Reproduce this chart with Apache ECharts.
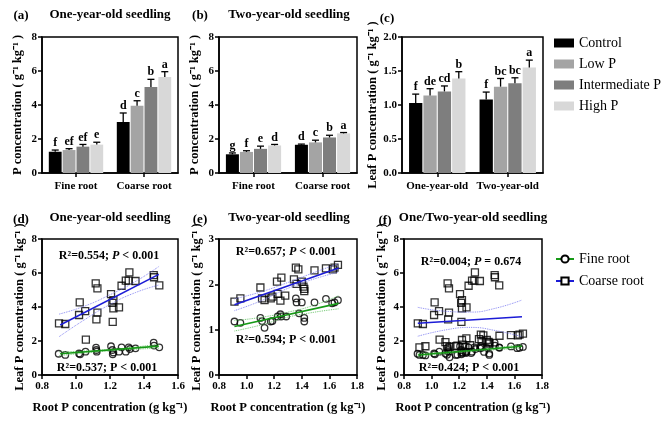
<!DOCTYPE html>
<html><head><meta charset="utf-8">
<script src="https://cdn.jsdelivr.net/npm/echarts@6/dist/echarts.min.js"></script>
<style>html,body{margin:0;padding:0;background:#fff}#c{width:669px;height:433px}</style>
</head><body><div id="c"></div>
<script>
// ---------------- DATA ----------------
const treatments = ['Control', 'Low P', 'Intermediate P', 'High P'];
const rootCats = ['Fine root', 'Coarse root'];
const ageCats = ['One-year-old', 'Two-year-old'];

// (a) One-year-old seedling: [fine, coarse] per treatment
const aMeans = [[1.25, 3.00], [1.35, 3.96], [1.55, 5.06], [1.67, 5.65]];
const aErrors = [[0.10, 0.53], [0.08, 0.29], [0.13, 0.45], [0.14, 0.31]];
const aLetters = [['f', 'd'], ['ef', 'c'], ['ef', 'b'], ['e', 'a']];
// (b) Two-year-old seedling
const bMeans = [[1.10, 1.66], [1.24, 1.80], [1.42, 2.09], [1.62, 2.33]];
const bErrors = [[0.08, 0.04], [0.07, 0.13], [0.16, 0.13], [0.06, 0.05]];
const bLetters = [['g', 'd'], ['f', 'c'], ['e', 'b'], ['d', 'a']];
// (c) Leaf P: [one-year, two-year] per treatment
const cMeans = [[1.03, 1.08], [1.14, 1.27], [1.20, 1.32], [1.39, 1.55]];
const cErrors = [[0.13, 0.11], [0.10, 0.12], [0.08, 0.08], [0.10, 0.11]];
const cLetters = [['f', 'f'], ['de', 'bc'], ['cd', 'bc'], ['b', 'a']];

// (d) One-year-old scatter
const dCoarse = [[0.900,3.04],[0.937,3.00],[1.018,3.53],[1.022,4.27],[1.054,3.76],[1.058,2.08],[1.116,5.39],[1.126,5.10],[1.120,3.27],[1.126,3.67],[1.206,4.76],[1.214,4.24],[1.220,4.41],[1.220,3.92],[1.216,3.12],[1.253,3.98],[1.268,5.25],[1.293,5.55],[1.310,5.55],[1.314,6.04],[1.350,5.53],[1.457,5.88],[1.459,5.75],[1.490,5.27]];
const dFine = [[0.898,1.25],[0.937,1.18],[1.018,1.27],[1.024,1.22],[1.056,1.37],[1.118,1.61],[1.120,1.47],[1.122,1.37],[1.206,1.69],[1.214,1.47],[1.220,1.33],[1.216,1.22],[1.253,1.37],[1.268,1.63],[1.293,1.37],[1.310,1.63],[1.317,1.53],[1.350,1.57],[1.457,1.90],[1.459,1.73],[1.490,1.63]];
const dCoarseFit = [[0.907,2.94],[1.487,5.92]];
const dCoarseUpper = [[0.90,3.58],[1.05,4.05],[1.20,4.72],[1.35,5.50],[1.49,6.40]];
const dCoarseLower = [[0.90,2.25],[1.05,3.25],[1.20,4.15],[1.35,4.85],[1.49,5.30]];
const dFineFit = [[0.907,1.25],[1.487,1.70]];
const dFineUpper = [[0.90,1.36],[1.20,1.50],[1.49,1.82]];
const dFineLower = [[0.90,1.14],[1.20,1.42],[1.49,1.58]];

// (e) Two-year-old scatter
const eCoarse = [[0.912,1.62],[0.955,1.69],[1.100,1.93],[1.112,1.69],[1.130,1.65],[1.175,1.69],[1.187,1.73],[1.220,2.06],[1.225,1.79],[1.245,1.64],[1.252,2.15],[1.280,1.75],[1.343,2.11],[1.357,2.37],[1.375,2.33],[1.362,2.01],[1.400,2.06],[1.412,1.95],[1.418,1.90],[1.418,1.85],[1.492,2.31],[1.575,2.35],[1.625,2.33],[1.637,2.37],[1.662,2.43]];
const eFine = [[0.912,1.18],[0.955,1.15],[1.100,1.26],[1.112,1.19],[1.130,1.04],[1.175,1.18],[1.187,1.19],[1.225,1.29],[1.245,1.34],[1.250,1.29],[1.287,1.29],[1.357,1.69],[1.362,1.60],[1.400,1.60],[1.380,1.36],[1.418,1.26],[1.418,1.18],[1.492,1.60],[1.575,1.68],[1.620,1.58],[1.637,1.60],[1.662,1.65]];
const eCoarseFit = [[0.912,1.55],[1.667,2.36]];
const eCoarseUpper = [[0.912,1.68],[1.10,1.83],[1.29,2.03],[1.48,2.25],[1.667,2.46]];
const eCoarseLower = [[0.912,1.42],[1.10,1.63],[1.29,1.90],[1.48,2.11],[1.667,2.27]];
const eFineFit = [[0.912,1.07],[1.667,1.58]];
const eFineUpper = [[0.912,1.20],[1.10,1.27],[1.29,1.38],[1.48,1.53],[1.667,1.75]];
const eFineLower = [[0.912,0.97],[1.10,1.10],[1.29,1.27],[1.48,1.38],[1.667,1.46]];

// (f) combined
const fCoarse = dCoarse.concat(eCoarse);
const fFine = dFine.concat(eFine);
const fCoarseFit = [[0.900,3.04],[1.655,3.43]];
const fCoarseUpper = [[0.90,3.98],[1.10,3.75],[1.28,3.70],[1.46,3.92],[1.655,4.41]];
const fCoarseLower = [[0.90,2.28],[1.10,2.65],[1.28,2.80],[1.46,2.62],[1.655,2.25]];
const fFineFit = [[0.900,1.18],[1.655,1.69]];
const fFineUpper = [[0.90,1.28],[1.28,1.45],[1.655,1.80]];
const fFineLower = [[0.90,1.08],[1.28,1.38],[1.655,1.58]];

// ---------------- STYLE ----------------
const FONT = '"Liberation Serif", "Times New Roman", serif';
const barColors = ['#000000', '#a4a4a4', '#7e7e7e', '#d8d8d8'];
const BLUE = '#1c1cd6', GREEN = '#169a16';
const BLUE_B = '#7b7bf0', GREEN_B = '#5fbf5f';

const grids = [
  {left: 42, top: 37, width: 136, height: 136},
  {left: 219, top: 37, width: 138, height: 136},
  {left: 402, top: 37, width: 141, height: 136},
  {left: 42, top: 239, width: 136, height: 136},
  {left: 219, top: 239, width: 138, height: 136},
  {left: 404, top: 239, width: 138, height: 136}
].map(g => Object.assign({show: true, borderColor: '#000', borderWidth: 1.5, backgroundColor: 'transparent'}, g));

const axLine = {show: true, onZero: false, lineStyle: {color: '#000', width: 1.5}};
const axTick = {show: true, length: 4, lineStyle: {color: '#000', width: 1.5}};
const axLabel = {fontFamily: FONT, fontWeight: 'bold', fontSize: 11, color: '#000', margin: 5};
const nameStyle = {fontFamily: FONT, fontWeight: 'bold', fontSize: 12.5, color: '#000'};

function yAx(gi, max, interval, name, gap, dec) {
  return {type: 'value', gridIndex: gi, min: 0, max: max, interval: interval,
    name: name, nameLocation: 'middle', nameGap: gap, nameTextStyle: nameStyle,
    axisLine: axLine, axisTick: axTick, splitLine: {show: false},
    axisLabel: Object.assign({}, axLabel, {formatter: v => v.toFixed(dec)})};
}
function xCat(gi, cats) {
  return {type: 'category', gridIndex: gi, data: cats,
    axisLine: axLine, axisTick: Object.assign({}, axTick, {alignWithLabel: true, interval: 0}),
    axisLabel: Object.assign({}, axLabel, {margin: 8, interval: 0, hideOverlap: false})};
}
function xVal(gi, max) {
  return {type: 'value', gridIndex: gi, min: 0.8, max: max, interval: 0.2,
    name: 'Root P concentration (g kg\u207B\u00B9)', nameLocation: 'middle', nameGap: 26,
    nameTextStyle: Object.assign({}, nameStyle, {fontSize: 12.5}),
    axisLine: axLine, axisTick: axTick, splitLine: {show: false},
    axisLabel: Object.assign({}, axLabel, {margin: 6, formatter: v => v.toFixed(1)})};
}

const PNAME = 'P concentration ( g\u207B\u00B9 kg\u207B\u00B9 )';
const LPNAME = 'Leaf P concentration ( g\u207B\u00B9 kg\u207B\u00B9 )';

const xAxes = [xCat(0, rootCats), xCat(1, rootCats), xCat(2, ageCats), xVal(3, 1.6), xVal(4, 1.8), xVal(5, 1.8)];
const yAxes = [yAx(0, 8, 2, PNAME, 18, 0), yAx(1, 8, 2, PNAME, 18, 0), yAx(2, 2, 0.5, LPNAME, 22, 1),
  yAx(3, 8, 2, LPNAME, 16, 0), yAx(4, 3, 1, LPNAME, 16, 0), yAx(5, 8, 2, LPNAME, 16, 0)];

const series = [];
function addBars(gi, means, errs, letters) {
  means.forEach((m, t) => {
    series.push({type: 'bar', name: treatments[t], xAxisIndex: gi, yAxisIndex: gi, data: m,
      barGap: '8%', barCategoryGap: '20%', itemStyle: {color: barColors[t]}, z: 2, silent: true});
  });
  const items = [], labs = [];
  means.forEach((m, t) => m.forEach((v, c) => { items.push([c, v, errs[t][c], t]); labs.push(letters[t][c]); }));
  series.push({type: 'custom', xAxisIndex: gi, yAxisIndex: gi, z: 5, silent: true, data: items,
    renderItem: function (params, api) {
      const c = api.value(0), v = api.value(1), e = api.value(2), t = api.value(3);
      const band = api.size([1, 0])[0];
      const w = band * 0.8 / (4 + 3 * 0.08);
      const off = -band * 0.4 + w / 2 + t * w * 1.08;
      const p0 = api.coord([c, v]), p1 = api.coord([c, v + e]);
      const x = p0[0] + off;
      const ls = {stroke: '#000', lineWidth: 1.3};
      return {type: 'group', children: [
        {type: 'line', shape: {x1: x, y1: p0[1], x2: x, y2: p1[1]}, style: ls},
        {type: 'line', shape: {x1: x - 3.5, y1: p1[1], x2: x + 3.5, y2: p1[1]}, style: ls},
        {type: 'text', x: x, y: p1[1] - 1, style: {text: labs[params.dataIndex], font: 'bold 12px ' + FONT,
          fill: '#000', align: 'center', verticalAlign: 'bottom', textAlign: 'center', textVerticalAlign: 'bottom'}}
      ]};
    }});
}
addBars(0, aMeans, aErrors, aLetters);
addBars(1, bMeans, bErrors, bLetters);
addBars(2, cMeans, cErrors, cLetters);

function addScatter(gi, coarse, fine, cFit, cUp, cLo, fFit, fUp, fLo, named) {
  const sym = {color: 'rgba(0,0,0,0)', borderColor: '#000', borderWidth: 1.3};
  series.push({type: 'scatter', xAxisIndex: gi, yAxisIndex: gi, data: coarse, symbol: 'rect', symbolSize: 7, itemStyle: sym, z: 3, silent: true});
  series.push({type: 'scatter', xAxisIndex: gi, yAxisIndex: gi, data: fine, symbol: 'circle', symbolSize: 6.5, itemStyle: sym, z: 3, silent: true});
  const band = (d, col) => ({type: 'line', xAxisIndex: gi, yAxisIndex: gi, data: d, smooth: true, showSymbol: false, symbol: 'none',
    lineStyle: {color: col, width: 0.9, type: 'dotted'}, z: 4, silent: true});
  series.push(band(cUp, BLUE_B), band(cLo, BLUE_B), band(fUp, GREEN_B), band(fLo, GREEN_B));
  series.push({type: 'line', name: named ? 'Fine root' : undefined, xAxisIndex: gi, yAxisIndex: gi, data: fFit, showSymbol: false, symbol: 'circle',
    itemStyle: {color: '#fff', borderColor: '#000', borderWidth: 1.5}, lineStyle: {color: GREEN, width: 1.6}, z: 5, silent: true});
  series.push({type: 'line', name: named ? 'Coarse root' : undefined, xAxisIndex: gi, yAxisIndex: gi, data: cFit, showSymbol: false, symbol: 'rect',
    itemStyle: {color: '#fff', borderColor: '#000', borderWidth: 1.5}, lineStyle: {color: BLUE, width: 1.6}, z: 5, silent: true});
}
addScatter(3, dCoarse, dFine, dCoarseFit, dCoarseUpper, dCoarseLower, dFineFit, dFineUpper, dFineLower, false);
addScatter(4, eCoarse, eFine, eCoarseFit, eCoarseUpper, eCoarseLower, eFineFit, eFineUpper, eFineLower, false);
addScatter(5, fCoarse, fFine, fCoarseFit, fCoarseUpper, fCoarseLower, fFineFit, fFineUpper, fFineLower, true);

function txt(x, y, text, size, align) {
  return {type: 'text', x: x, y: y, silent: true, style: {text: text, font: 'bold ' + size + 'px ' + FONT, fill: '#000',
    align: align || 'center', verticalAlign: 'middle', textAlign: align || 'center', textVerticalAlign: 'middle'}};
}
function stat(x, y, r2, pItalic, rest) {
  return {type: 'text', x: x, y: y, silent: true, style: {
    text: '{n|R\u00B2=' + r2 + '; }{' + (pItalic ? 'i' : 'n') + '|P}{n|' + rest + '}',
    align: 'center', verticalAlign: 'middle', textAlign: 'center', textVerticalAlign: 'middle',
    rich: {n: {font: 'bold 12px ' + FONT, fill: '#000', fontFamily: FONT, fontWeight: 'bold', fontSize: 12, color: '#000'},
           i: {font: 'italic bold 12px ' + FONT, fill: '#000', fontFamily: FONT, fontWeight: 'bold', fontStyle: 'italic', fontSize: 12, color: '#000'}}}};
}

const graphics = [
  txt(21, 16, '(a)', 13), txt(110, 15, 'One-year-old seedling', 13),
  txt(200, 16, '(b)', 13), txt(289, 15, 'Two-year-old seedling', 13),
  txt(387, 19, '(c)', 13),
  txt(21, 220, '(d)', 13), txt(110, 218, 'One-year-old seedling', 13),
  txt(200, 220, '(e)', 13), txt(289, 218, 'Two-year-old seedling', 13),
  txt(385, 221, '(f)', 13), txt(473, 218, 'One/Two-year-old seedling', 13),
  stat(109, 256, '0.554', true, ' < 0.001'), stat(107, 368, '0.537', false, ' < 0.001'),
  stat(286, 252, '0.657', true, ' < 0.001'), stat(286, 340, '0.594', false, ' < 0.001'),
  stat(471, 262, '0.004', true, ' = 0.674'), stat(469, 368, '0.424', false, ' < 0.001')
];

const chart = echarts.init(document.getElementById('c'), null, {renderer: 'canvas'});
chart.setOption({
  animation: false,
  backgroundColor: '#fff',
  textStyle: {fontFamily: FONT},
  grid: grids,
  xAxis: xAxes,
  yAxis: yAxes,
  legend: [
    {data: treatments, orient: 'vertical', left: 549, top: 31, icon: 'rect', itemWidth: 20, itemHeight: 9, itemGap: 7,
      selectedMode: false, textStyle: {fontFamily: FONT, fontSize: 14, color: '#000'}},
    {data: ['Fine root', 'Coarse root'], orient: 'vertical', left: 550, top: 247, itemWidth: 18, itemHeight: 9, itemGap: 8,
      selectedMode: false, textStyle: {fontFamily: FONT, fontSize: 14, color: '#000'}}
  ],
  series: series,
  graphic: graphics
});
</script></body></html>
